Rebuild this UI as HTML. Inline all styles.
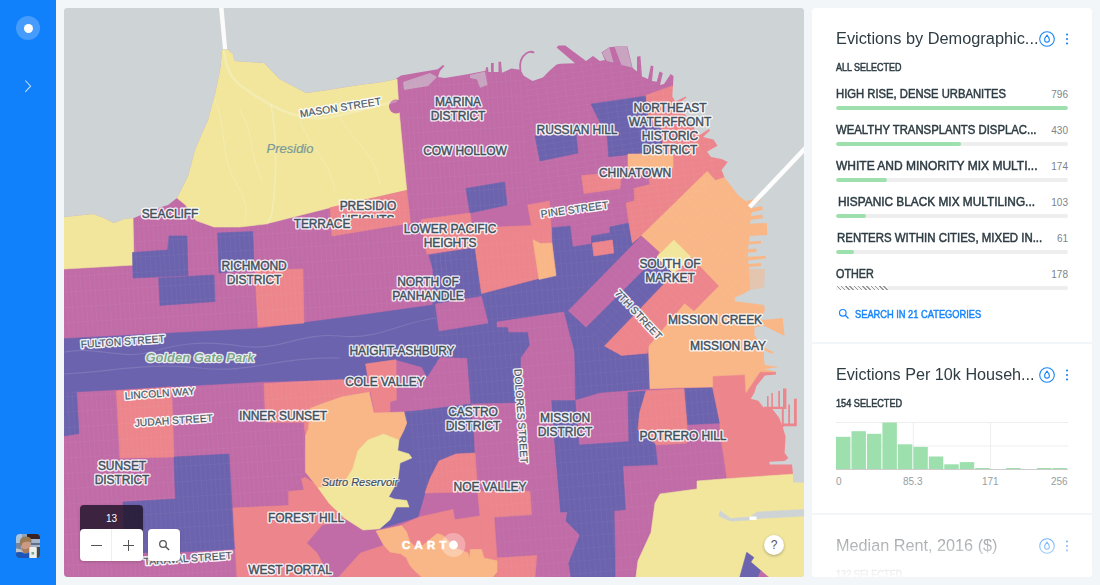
<!DOCTYPE html>
<html><head><meta charset="utf-8"><title>Evictions</title>
<style>
*{box-sizing:border-box;margin:0;padding:0}
html,body{width:1100px;height:585px;overflow:hidden;background:#F2F6F9;font-family:"Liberation Sans",sans-serif}
#side{position:absolute;left:0;top:0;width:56px;height:585px;background:#1181FB}
#logo{position:absolute;left:16px;top:16px;width:24px;height:24px;border-radius:50%;background:rgba(255,255,255,.22)}
#logo i{position:absolute;left:7.5px;top:7.5px;width:9px;height:9px;border-radius:50%;background:#fff}
#chev{position:absolute;left:20px;top:76px}
#avatar{position:absolute;left:16px;top:534px;width:24px;height:24px;border-radius:4px;overflow:hidden;background:#5b7186}
#map{position:absolute;left:64px;top:8px;width:740px;height:569px;border-radius:4px;overflow:hidden;background:#CED3D6}
#map svg{position:absolute;left:0;top:0}
.lb{font:400 12px "Liberation Sans",sans-serif;letter-spacing:-.1px;text-anchor:middle;stroke-linejoin:round}
.st{font-size:10.3px;letter-spacing:.05px}
.lb.h{fill:#fff;stroke:#fff;stroke-width:3.2px;stroke-opacity:.9}
.lb.f{fill:#42515F;stroke:#42515F;stroke-width:.45px}
.st.f{stroke-width:.2px;fill:#4A5A68}
.it{font:italic 400 12.5px "Liberation Sans",sans-serif;letter-spacing:0;text-anchor:middle;stroke-linejoin:round}
.pk.h{fill:none;stroke:none}
.pk.f{fill:#7A9A98;stroke:#7A9A98;stroke-width:.2px;font-size:13px}
.gp{font-weight:700;font-size:13px}
.gp.h{fill:#fff;stroke:#fff;stroke-width:2.6px;stroke-opacity:.85}
.gp.f{fill:#7DA787}
.sr{font-size:11px}
.sr.h{fill:#fff;stroke:#fff;stroke-width:2.2px;stroke-opacity:.55}
.sr.f{fill:#3F4E5A;stroke:#3F4E5A;stroke-width:.2px}
#zoom{position:absolute;left:16px;top:497px;width:63px;height:56px;border-radius:4px;box-shadow:0 1px 3px rgba(0,0,0,.18)}
#zoom .lvl{position:absolute;left:0;top:0;width:63px;height:28px;background:rgba(30,20,40,.82);border-radius:4px 4px 0 0;color:#fff;font-size:10px;text-align:center;line-height:28px}
#zoom .btn{position:absolute;left:0;top:24px;width:63px;height:32px;background:#fff;border-radius:4px}
#zoom .btn:after{content:"";position:absolute;left:31px;top:0;width:1px;height:32px;background:#eee}
#srch{position:absolute;left:84px;top:521px;width:32px;height:32px;background:#fff;border-radius:4px;box-shadow:0 1px 3px rgba(0,0,0,.18)}
#help{position:absolute;left:700px;top:527px;width:20px;height:20px;border-radius:50%;background:#fff;box-shadow:0 1px 3px rgba(0,0,0,.3);color:#555;font-size:12px;text-align:center;line-height:20px}
#panel{position:absolute;left:812px;top:8px;width:280px;height:569px;border-radius:4px;overflow:hidden}
.w{position:absolute;left:0;width:280px;background:#fff}
.ttl{position:absolute;left:24px;font-size:16px;color:#2E3C43;white-space:nowrap;transform-origin:0 0}
.sub{position:absolute;left:24px;font-size:10.5px;font-weight:400;-webkit-text-stroke:.5px currentColor;color:#2E3C43;white-space:nowrap;transform-origin:0 0}
.ico{position:absolute}
.row{position:absolute;left:24px;width:232px;height:28px}
.row .nm{position:absolute;top:1.2px;font-size:12.5px;font-weight:400;-webkit-text-stroke:.5px #2E3C43;color:#2E3C43;white-space:nowrap;line-height:14px;transform-origin:0 0}
.row .vl{position:absolute;right:0;top:2px;font-size:10px;color:#7A858B;line-height:14px}
.row .bar{position:absolute;left:0;top:20px;width:232px;height:4px;border-radius:2px;background:#EEEEEE;overflow:hidden}
.row .fill{height:4px;border-radius:2px;background:#9DE0AD}
.row .hatch{background:repeating-linear-gradient(45deg,#999 0 1px,#f4f4f4 1px 3px);border-radius:2px 0 0 2px}
#find{position:absolute;left:42.7px;top:300px;font-size:10.5px;font-weight:400;-webkit-text-stroke:.45px #1785FB;color:#1785FB;white-space:nowrap;transform-origin:0 0}
.ax{position:absolute;top:132.3px;font-size:10px;color:#979EA1}
#fade{position:absolute;left:0;top:505px;width:280px;height:64px;background:linear-gradient(rgba(255,255,255,0),rgba(255,255,255,.95))}
</style></head><body>
<div id="side">
 <div id="logo"><i></i></div>
 <svg id="chev" width="16" height="20" viewBox="0 0 16 20"><path d="M5.3 4.5 L10.6 10.2 L5.3 15.8" fill="none" stroke="#C4DEFE" stroke-width="1.05"/></svg>
 <div id="avatar"><svg width="24" height="24" viewBox="0 0 24 24"><defs><filter id="bl" x="-10%" y="-10%" width="120%" height="120%"><feGaussianBlur stdDeviation=".7"/></filter></defs><g filter="url(#bl)"><rect x="-2" y="-2" width="28" height="28" fill="#8FA3BD"/><rect x="-2" y="-2" width="8" height="13" fill="#A9C4E0"/><rect x="-2" y="9" width="7" height="6" fill="#6F87A6"/><rect x="11" y="-2" width="15" height="7" fill="#3A2422"/><rect x="15" y="5" width="11" height="8" fill="#A3B4CB"/><rect x="15" y="9" width="11" height="2" fill="#5E6E86"/><rect x="20" y="13" width="6" height="13" fill="#4C4A42"/><ellipse cx="9.8" cy="12" rx="5" ry="6.5" fill="#CB9A82"/><path d="M3.5 11 Q3 2 10 2.5 Q16.5 2.5 15.5 9 Q13 6.5 9 8 Q6 8 5.5 12Z" fill="#9A7A55"/><path d="M5.5 14 Q9.5 16.5 14 13.5 Q14 20 9.5 19.5 Q6 19 5.5 14Z" fill="#A87B5C"/><path d="M-2 15 Q3 13 7 17.5 L5 20 L-2 20Z" fill="#BFC2C6"/><path d="M-2 19 Q5 17 8 19.5 Q11 20 13.5 18 L14 26 L-2 26Z" fill="#1F55B5"/><rect x="13.3" y="13" width="7.5" height="12" rx="1" fill="#EEF0EE"/><rect x="15.5" y="18" width="2.6" height="2.6" fill="#7FA595"/></g></svg></div>
</div>
<div id="map">
<svg width="740" height="569" viewBox="64 8 740 569">
<defs>
<clipPath id="g1"><polygon points="64,260 134,262 134,218 190,205 240,227 330,207 406,190 400,80 520,60 530,200 470,214 433,305 300,322 64,338"/></clipPath><clipPath id="g2"><polygon points="64,392 342,379 370,391 305,430 305,477 288,492 288,506 233,508 237,580 64,580"/></clipPath><clipPath id="g3"><polygon points="520,60 680,60 725,175 641,235 552,228 549,201 530,200"/></clipPath><clipPath id="g4"><polygon points="433,255 552,228 641,235 568,311 604,346 650,354 650,389 720,388 727,478 655,503 636,580 500,580 497,517 477,491 425,493 404,412 440,356 433,305"/></clipPath><clipPath id="g5"><polygon points="707,171 750,208 750,290 735,300 684,304 648,346 604,346 568,311 641,235"/></clipPath>
<clipPath id="hc"><rect x="340" y="212" width="60" height="6.3"/></clipPath><mask id="land" maskUnits="userSpaceOnUse" x="64" y="8" width="740" height="569"><g fill="#fff"><polygon points="64,217 93,214 104,218 114,223 124,219 134,218 152,210 168,205 177,198 180.5,191 188,176 195,150 200,138 208,120 215,94 220.5,68 222,50 227,49 233,54 234.6,61 264,63 279.5,79 306,93 328,90 359,85 379.5,82.5 394.8,79.6 401,75.5 417,72.7 437.7,69.3 443,65 444.5,66 440,71 438,77 445,78 469,74 485.5,70.7 486,67.3 488,67.3 488.5,72 491,72 491,63 493.7,63 493.7,72 498.5,72 498.5,61.8 501,61.8 502,72.7 511.4,68.6 520.4,69.7 523.8,75.8 532.5,81 542.8,77.5 549.7,70.6 556.6,64.5 560,63.7 575,63.2 556.6,47.5 558.5,45.5 565.3,45.5 586,61 593,56 599.8,61 605,60 601.5,52.5 609.3,47.3 617,46.4 627.4,46.4 632.6,68 637,71.5 637,56.8 640.4,56 642,76.6 648,79 650.8,65.4 653.4,66.3 652,81 656.8,81.8 659.4,71.5 662.8,73 660,85 664,84 670.6,74 673.5,76 673,85.3 672.3,96.4 675.4,101.5 685.6,96.4 686.5,97.5 678,104 699,135.4 709,129 710,130.5 703,137 713.4,139.5 717.5,145.7 707,151.8 711,157 721.6,159 727.7,162 721.6,170 724.6,177.5 738,195 746,201.3 759,197.5 761,200 749.8,207.9 751.7,208 762,206 763,209.7 751.7,212.6 750.8,216.3 762,214.4 763,218.2 750.8,220 749.8,223.8 766.8,222.9 767.3,235 749.8,236 748.9,241.7 761,240.8 761,243.6 748.5,244.5 748,249 756.4,248.7 756.4,252 748,252.5 748,256.8 765.8,255.8 765.8,258.6 748,260.5 748.5,264 761,263 761,266 749,267 749,269 750.4,289.7 743,294 734.8,297.5 734.8,301.3 749,303 764,305 764.9,310.7 760,318 762,320 782.7,318 784.6,336 764,325.7 754.5,327.6 754.5,335 762,346.4 773.3,352 772.5,354 764,350 764,359.6 764.9,365 779,367 764.9,369 776,371.8 776,374.6 764.9,375.6 756.4,386 754.5,392.5 750.8,398.8 758.3,400.7 764,408 771.5,408 779,417.6 782.7,427 785.6,436.4 784.6,453 788.4,458 784.6,461 769.6,461.8 769.6,464.6 792,464.6 793,474 793,482.5 804,482.5 804,577 64,577"/>
<path d="M767 396h1.6v12h-1.6zM771.3 393h1.6v15h-1.6zM778.2 391h1.8v17h-1.8zM783 388.5h3.4v20h-3.4zM764 406.8h22.4v2.2h-22.4zM781.8 408h2v19h-2zM788.2 404.4h1.8v20h-1.8zM794 398.8h2.8v27h-2.8zM782 423.6h14.8v2.6h-14.8z"/>
<path d="M519.5 71 Q517.5 58 526 52.5 Q531 49.5 534.6 52 L533.8 53.6 Q530.5 51.6 526.8 54 Q519.5 59 521.3 71z"/>
</g></mask></defs>
<rect x="64" y="8" width="740" height="569" fill="#CED3D6"/>
<g mask="url(#land)">
<polygon fill="#C16CA7" stroke="#C16CA7" stroke-width=".6" points="60,0 810,0 810,580 60,580" />
<polygon fill="#F1E69C" stroke="#F1E69C" stroke-width=".6" points="222,50 227,49 233,54 234.6,61 264,63 279.5,79 306,93 328,90 359,85 379.5,82.5 397,79 399,110 402.8,150 406.7,190 330,207.7 265.6,224 240,227 214,227 196,220.5 185.6,205 177,198 180.5,191 188,176 195,150 200,138 208,120 215,94 220.5,68" />
<polygon fill="#F1E69C" stroke="#F1E69C" stroke-width=".6" points="64,217 93,214 104,218 114,223 124,219 133,218 134,265 64,269" />
<polygon fill="#6C63AE" stroke="#6C63AE" stroke-width=".6" points="535,136 576,134 578,153 540,161" />
<polygon fill="#6C63AE" stroke="#6C63AE" stroke-width=".6" points="466,188.5 504.6,182 507,205 470,213" />
<polygon fill="#6C63AE" stroke="#6C63AE" stroke-width=".6" points="591,104 646,96 648.5,117 662.6,130 662.6,144 644.6,153 608.7,156.7 607.4,137.4" />
<polygon fill="#6C63AE" stroke="#6C63AE" stroke-width=".6" points="169,236 187,236 188,275.6 133,278 132.5,252.5 167.7,250" />
<polygon fill="#6C63AE" stroke="#6C63AE" stroke-width=".6" points="158.7,278 214,275 215,301.5 160,305.4" />
<polygon fill="#6C63AE" stroke="#6C63AE" stroke-width=".6" points="217.7,233 252.8,231.5 254,269 219,273" />
<polygon fill="#6C63AE" stroke="#6C63AE" stroke-width=".6" points="429,255 475,247.4 481.5,293.6 540.5,278 556,275.6 552,243 552.3,227.7 570,226 572.5,247 591.5,244 591.5,236 610,233 610,227 628.5,223 632.3,243 641.5,235.4 567.7,310.8 586,327.7 604.6,346 621.5,355.4 648.5,354 650,388.7 600,392.5 575,400 521,403 471,404 467.4,358 440,356.7 427,377 422,367 396,359.7 366,364 367,381 342,379.5 260,381.8 64,392.5 64,338.7 260,328.5 358,315.6 433,305 433,270" />
<polygon fill="#6C63AE" stroke="#6C63AE" stroke-width=".6" points="657,257 673.8,273.8 604.6,346 586,327.7" />
<polygon fill="#6C63AE" stroke="#6C63AE" stroke-width=".6" points="551,400 575,400 579,445 610,443 629,441.5 628,392.5 646,391 640,413 638,430 655,443 657.4,464.6 622.8,466 625.4,509.5 614,510.8 615,553 615,577 571,577 568.7,563 580,535 566,521 567.4,512 559.7,512 553,430" />
<polygon fill="#6C63AE" stroke="#6C63AE" stroke-width=".6" points="404,412 420,410.5 471,404 474,430 475,453 456,454 439,461 430,478.7 425,493 418,517 380,529 360,500 380,440 404,430 406.7,423" />
<polygon fill="#6C63AE" stroke="#6C63AE" stroke-width=".6" points="174,457 229,454 234.4,549 180,552 125,553 123,502 175.4,499" />
<polygon fill="#6C63AE" stroke="#6C63AE" stroke-width=".6" points="64,392.5 76.7,392.5 79,433.6 64,436" />
<polygon fill="#6C63AE" stroke="#6C63AE" stroke-width=".6" points="684,388.7 712.6,387.4 720,423 687,424.6" />
<polygon fill="#6C63AE" stroke="#6C63AE" stroke-width=".6" points="746.7,552.3 753.9,557.5 750.8,562 761,570.8 757,580 739,580" />
<polygon fill="#C16CA7" stroke="#C16CA7" stroke-width=".6" points="761,570.8 772,580 757,580" />
<polygon fill="#C16CA7" stroke="#C16CA7" stroke-width=".6" points="435.4,304 481.5,296.4 488,323 439,331" />
<polygon fill="#C16CA7" stroke="#C16CA7" stroke-width=".6" points="497,322 563.6,312 574,351.5 575,400 551,400 553,430 560,512 531.5,514.6 530,491.5 477.7,491.5 475,453 474,430 471,404 521,403 521,358 530,345 528,332 509,332 508,327 497,327" />
<polygon fill="#EC868C" stroke="#EC868C" stroke-width=".6" points="330,207.7 406.7,190.5 410.5,223 332,236" />
<polygon fill="#EC868C" stroke="#EC868C" stroke-width=".6" points="421,219.5 470,213 475,247 427,254" />
<polygon fill="#EC868C" stroke="#EC868C" stroke-width=".6" points="471,228 531.5,225.6 527.7,205 549.5,201 552,243 540.5,243.6 533,239.7 540.5,278 481.5,293.6 475,247" />
<polygon fill="#EC868C" stroke="#EC868C" stroke-width=".6" points="255,270.5 302.8,269 304,323 258,327" />
<polygon fill="#EC868C" stroke="#EC868C" stroke-width=".6" points="116.4,391 171.5,387 174,457 120,458" />
<polygon fill="#EC868C" stroke="#EC868C" stroke-width=".6" points="365.6,364 396,359.7 396.4,400 390,401.5 390,411.8 374.6,413 370.8,392.5" />
<polygon fill="#EC868C" stroke="#EC868C" stroke-width=".6" points="264,383.6 342,379.7 370,385 370,392.3 341.5,397 320,404.6 310,408.5 308.5,428.5 305.4,436 304,422.3 265.6,422.3" />
<polygon fill="#EC868C" stroke="#EC868C" stroke-width=".6" points="233,508 288.7,505.6 288.7,491.5 304,490 301.5,478.7 305.4,477.4 317,485 329.7,504 345,518.5 322,525 306.7,543 317,553 329.7,577 237,577" />
<polygon fill="#EC868C" stroke="#EC868C" stroke-width=".6" points="439,461 456,454 475,453 477.7,491.5 425,493 430,478.7" />
<polygon fill="#EC868C" stroke="#EC868C" stroke-width=".6" points="401.5,525 419.5,517 453,509.5 454.6,519.7 480,516 481.5,552 470,560 440,550 420,548 408,545" />
<polygon fill="#EC868C" stroke="#EC868C" stroke-width=".6" points="360.5,553 385,545 404,555.6 414,568.5 425,577 338.7,577" />
<polygon fill="#EC868C" stroke="#EC868C" stroke-width=".6" points="477.7,491.5 530,491.5 531.5,514.6 494,517 497,558 536.7,555.6 535,577 490,577 497,572 497,560.8 484,558 481.5,550.5 480,516" />
<polygon fill="#EC868C" stroke="#EC868C" stroke-width=".6" points="646,391 684,388.7 687,424.6 687,443 656,445 655,443 638,430 639.5,413" />
<polygon fill="#EC868C" stroke="#EC868C" stroke-width=".6" points="712.6,376 745,374.6 746,392.5 760,371.8 810,371.8 810,474 727,478.7 720,430 720,423 712.6,387.4" />
<polygon fill="#EC868C" stroke="#EC868C" stroke-width=".6" points="581.5,175.6 621.5,172 620,188.5 584,193.6" />
<polygon fill="#EC868C" stroke="#EC868C" stroke-width=".6" points="646,95.2 672.4,86 700,80 760,130 740,180 715.4,180.5 707.2,171.3 673,168 673,154 662.6,153 662.6,130 648.5,117" />
<polygon fill="#EC868C" stroke="#EC868C" stroke-width=".6" points="648,168 673,168 673,154 707.2,171.3 641.5,235.4 632.3,243 629,223 626,203 634.6,200.8 634,188.5 649.7,184.6" />
<polygon fill="#EC868C" stroke="#EC868C" stroke-width=".6" points="592.3,243 612.3,240 613.8,253 593.8,256" />
<polygon fill="#F9B788" stroke="#F9B788" stroke-width=".6" points="628,154 673,154 673,168 628,168" />
<polygon fill="#F9B788" stroke="#F9B788" stroke-width=".6" points="533,239.7 540.5,243.6 552,243 556,275.6 539,279.5" />
<polygon fill="#F9B788" stroke="#F9B788" stroke-width=".6" points="707.2,171.3 715.4,180.5 724.6,177.5 760,170 810,190 810,372 760,371.8 746,392.5 745,374.6 712.6,376 712.6,387 684,387.4 650,388.7 648.5,346 673.8,273.8 657,257 660,252.3 641.5,235.4" />
<polygon fill="#EC868C" stroke="#EC868C" stroke-width=".6" points="673.8,273.8 690.8,257 718.5,286 694,310.8 684.6,303 648.5,346 647,353 621.5,355.4 604.6,346" />
<polygon fill="#F9B788" stroke="#F9B788" stroke-width=".6" points="305.4,436 308.5,428.5 310,408.5 320,404.6 341.5,397 369.2,392.3 373.8,413 404,412 406.7,423 404,430 399,440 383.6,434 368,440 358,450.5 352.8,468.5 342.6,485 318,487.7 305.4,472" />
<polygon fill="#F9B788" stroke="#F9B788" stroke-width=".6" points="376,531 401.5,525.5 406.4,531.6 409.7,541.4 414.6,546.3 422.8,545.5 432.6,537.3 437.5,533.5 443.3,535.7 455.6,548 467.9,552.9 469.5,559.4 470.3,549.6 481.5,549.5 484,558 497,560.8 497,572 490,580 425,580 414,570 409.7,565 406.4,557.8 400.7,553.7 390,552 383.6,545" />
<polygon fill="#F1E69C" stroke="#F1E69C" stroke-width=".6" points="673.8,240 690.8,257 673.8,273.8 657,257" />
<polygon fill="#F1E69C" stroke="#F1E69C" stroke-width=".6" points="368,440 383.6,434 399,440 397.7,450.5 409,454 411.8,458 400,463 397.7,481 388.7,496.7 394,499 406.7,500.5 409,507 396.4,507 390,519.7 379.7,528.7 363,530 345,518.5 329.7,504 318,487.7 342.6,485 352.8,468.5 358,450.5" />
<polygon fill="#F1E69C" stroke="#F1E69C" stroke-width=".6" points="655,503 660,494 697,489 697,481 727,478.7 810,473 810,580 635.6,580 638,560.8 651,532.5" />
<polygon fill="#6C63AE" stroke="#6C63AE" stroke-width=".6" points="746.7,552.3 753.9,557.5 750.8,562 761,570.8 757,580 739,580" />
<polygon fill="#C16CA7" stroke="#C16CA7" stroke-width=".6" points="761,570.8 772,580 757,580" />
<polygon fill="#CED3D6" stroke="#CED3D6" stroke-width=".6" points="720,510.8 730.5,518.5 749.7,517 757.4,512 804,509.5 804,516 757.4,518.5 749.7,520 730.5,521 719,516" />
<g clip-path="url(#g1)"><path transform="rotate(-3.5 297 199)" d="M-52.5 -150V548M-47.8 -150V548M-43.0 -150V548M-38.2 -150V548M-33.5 -150V548M-28.8 -150V548M-24.0 -150V548M-19.2 -150V548M-14.5 -150V548M-9.8 -150V548M-5.0 -150V548M-0.2 -150V548M4.5 -150V548M9.2 -150V548M14.0 -150V548M18.8 -150V548M23.5 -150V548M28.2 -150V548M33.0 -150V548M37.8 -150V548M42.5 -150V548M47.2 -150V548M52.0 -150V548M56.8 -150V548M61.5 -150V548M66.2 -150V548M71.0 -150V548M75.8 -150V548M80.5 -150V548M85.2 -150V548M90.0 -150V548M94.8 -150V548M99.5 -150V548M104.2 -150V548M109.0 -150V548M113.8 -150V548M118.5 -150V548M123.2 -150V548M128.0 -150V548M132.8 -150V548M137.5 -150V548M142.2 -150V548M147.0 -150V548M151.8 -150V548M156.5 -150V548M161.2 -150V548M166.0 -150V548M170.8 -150V548M175.5 -150V548M180.2 -150V548M185.0 -150V548M189.8 -150V548M194.5 -150V548M199.2 -150V548M204.0 -150V548M208.8 -150V548M213.5 -150V548M218.2 -150V548M223.0 -150V548M227.8 -150V548M232.5 -150V548M237.2 -150V548M242.0 -150V548M246.8 -150V548M251.5 -150V548M256.2 -150V548M261.0 -150V548M265.8 -150V548M270.5 -150V548M275.2 -150V548M280.0 -150V548M284.8 -150V548M289.5 -150V548M294.2 -150V548M299.0 -150V548M303.8 -150V548M308.5 -150V548M313.2 -150V548M318.0 -150V548M322.8 -150V548M327.5 -150V548M332.2 -150V548M337.0 -150V548M341.8 -150V548M346.5 -150V548M351.2 -150V548M356.0 -150V548M360.8 -150V548M365.5 -150V548M370.2 -150V548M375.0 -150V548M379.8 -150V548M384.5 -150V548M389.2 -150V548M394.0 -150V548M398.8 -150V548M403.5 -150V548M408.2 -150V548M413.0 -150V548M417.8 -150V548M422.5 -150V548M427.2 -150V548M432.0 -150V548M436.8 -150V548M441.5 -150V548M446.2 -150V548M451.0 -150V548M455.8 -150V548M460.5 -150V548M465.2 -150V548M470.0 -150V548M474.8 -150V548M479.5 -150V548M484.2 -150V548M489.0 -150V548M493.8 -150V548M498.5 -150V548M503.2 -150V548M508.0 -150V548M512.8 -150V548M517.5 -150V548M522.2 -150V548M527.0 -150V548M531.8 -150V548M536.5 -150V548M541.2 -150V548M546.0 -150V548M550.8 -150V548M555.5 -150V548M560.2 -150V548M565.0 -150V548M569.8 -150V548M574.5 -150V548M579.2 -150V548M584.0 -150V548M588.8 -150V548M593.5 -150V548M598.2 -150V548M603.0 -150V548M607.8 -150V548M612.5 -150V548M617.2 -150V548M622.0 -150V548M626.8 -150V548M631.5 -150V548M636.2 -150V548M641.0 -150V548M645.8 -150V548M-52 -150.5H646M-52 -135.2H646M-52 -119.9H646M-52 -104.6H646M-52 -89.3H646M-52 -74.0H646M-52 -58.7H646M-52 -43.4H646M-52 -28.1H646M-52 -12.8H646M-52 2.5H646M-52 17.8H646M-52 33.1H646M-52 48.4H646M-52 63.7H646M-52 79.0H646M-52 94.3H646M-52 109.6H646M-52 124.9H646M-52 140.2H646M-52 155.5H646M-52 170.8H646M-52 186.1H646M-52 201.4H646M-52 216.7H646M-52 232.0H646M-52 247.3H646M-52 262.6H646M-52 277.9H646M-52 293.2H646M-52 308.5H646M-52 323.8H646M-52 339.1H646M-52 354.4H646M-52 369.7H646M-52 385.0H646M-52 400.3H646M-52 415.6H646M-52 430.9H646M-52 446.2H646M-52 461.5H646M-52 476.8H646M-52 492.1H646M-52 507.4H646M-52 522.7H646M-52 538.0H646" fill="none" stroke="#fff" stroke-opacity="0.065" stroke-width=".6"/></g>
<g clip-path="url(#g2)"><path transform="rotate(-3.5 217 480)" d="M-12.5 250V709M-7.8 250V709M-3.0 250V709M1.8 250V709M6.5 250V709M11.2 250V709M16.0 250V709M20.8 250V709M25.5 250V709M30.2 250V709M35.0 250V709M39.8 250V709M44.5 250V709M49.2 250V709M54.0 250V709M58.8 250V709M63.5 250V709M68.2 250V709M73.0 250V709M77.8 250V709M82.5 250V709M87.2 250V709M92.0 250V709M96.8 250V709M101.5 250V709M106.2 250V709M111.0 250V709M115.8 250V709M120.5 250V709M125.2 250V709M130.0 250V709M134.8 250V709M139.5 250V709M144.2 250V709M149.0 250V709M153.8 250V709M158.5 250V709M163.2 250V709M168.0 250V709M172.8 250V709M177.5 250V709M182.2 250V709M187.0 250V709M191.8 250V709M196.5 250V709M201.2 250V709M206.0 250V709M210.8 250V709M215.5 250V709M220.2 250V709M225.0 250V709M229.8 250V709M234.5 250V709M239.2 250V709M244.0 250V709M248.8 250V709M253.5 250V709M258.2 250V709M263.0 250V709M267.8 250V709M272.5 250V709M277.2 250V709M282.0 250V709M286.8 250V709M291.5 250V709M296.2 250V709M301.0 250V709M305.8 250V709M310.5 250V709M315.2 250V709M320.0 250V709M324.8 250V709M329.5 250V709M334.2 250V709M339.0 250V709M343.8 250V709M348.5 250V709M353.2 250V709M358.0 250V709M362.8 250V709M367.5 250V709M372.2 250V709M377.0 250V709M381.8 250V709M386.5 250V709M391.2 250V709M396.0 250V709M400.8 250V709M405.5 250V709M410.2 250V709M415.0 250V709M419.8 250V709M424.5 250V709M429.2 250V709M434.0 250V709M438.8 250V709M443.5 250V709M-12 250.0H446M-12 265.3H446M-12 280.6H446M-12 295.9H446M-12 311.2H446M-12 326.5H446M-12 341.8H446M-12 357.1H446M-12 372.4H446M-12 387.7H446M-12 403.0H446M-12 418.3H446M-12 433.6H446M-12 448.9H446M-12 464.2H446M-12 479.5H446M-12 494.8H446M-12 510.1H446M-12 525.4H446M-12 540.7H446M-12 556.0H446M-12 571.3H446M-12 586.6H446M-12 601.9H446M-12 617.2H446M-12 632.5H446M-12 647.8H446M-12 663.1H446M-12 678.4H446M-12 693.7H446M-12 709.0H446" fill="none" stroke="#fff" stroke-opacity="0.065" stroke-width=".6"/></g>
<g clip-path="url(#g3)"><path transform="rotate(-8 622 148)" d="M468.8 -6V301M478.4 -6V301M488.0 -6V301M497.6 -6V301M507.2 -6V301M516.8 -6V301M526.4 -6V301M536.0 -6V301M545.6 -6V301M555.2 -6V301M564.8 -6V301M574.4 -6V301M584.0 -6V301M593.6 -6V301M603.2 -6V301M612.8 -6V301M622.4 -6V301M632.0 -6V301M641.6 -6V301M651.2 -6V301M660.8 -6V301M670.4 -6V301M680.0 -6V301M689.6 -6V301M699.2 -6V301M708.8 -6V301M718.4 -6V301M728.0 -6V301M737.6 -6V301M747.2 -6V301M756.8 -6V301M766.4 -6V301M776.0 -6V301M469 -6.2H776M469 -0.7H776M469 4.9H776M469 10.5H776M469 16.1H776M469 21.8H776M469 27.4H776M469 33.0H776M469 38.6H776M469 44.2H776M469 49.8H776M469 55.4H776M469 61.0H776M469 66.6H776M469 72.2H776M469 77.8H776M469 83.3H776M469 88.9H776M469 94.5H776M469 100.1H776M469 105.7H776M469 111.3H776M469 116.9H776M469 122.5H776M469 128.1H776M469 133.7H776M469 139.3H776M469 144.9H776M469 150.5H776M469 156.1H776M469 161.7H776M469 167.3H776M469 172.9H776M469 178.5H776M469 184.1H776M469 189.7H776M469 195.3H776M469 200.9H776M469 206.5H776M469 212.1H776M469 217.7H776M469 223.3H776M469 228.9H776M469 234.5H776M469 240.1H776M469 245.7H776M469 251.3H776M469 256.9H776M469 262.5H776M469 268.1H776M469 273.7H776M469 279.3H776M469 284.9H776M469 290.5H776M469 296.1H776" fill="none" stroke="#fff" stroke-opacity="0.065" stroke-width=".6"/></g>
<g clip-path="url(#g4)"><path transform="rotate(-4.5 566 404)" d="M301.5 140V668M306.7 140V668M311.9 140V668M317.1 140V668M322.3 140V668M327.5 140V668M332.7 140V668M337.9 140V668M343.1 140V668M348.3 140V668M353.5 140V668M358.7 140V668M363.9 140V668M369.1 140V668M374.3 140V668M379.5 140V668M384.7 140V668M389.9 140V668M395.1 140V668M400.3 140V668M405.5 140V668M410.7 140V668M415.9 140V668M421.1 140V668M426.3 140V668M431.5 140V668M436.7 140V668M441.9 140V668M447.1 140V668M452.3 140V668M457.5 140V668M462.7 140V668M467.9 140V668M473.1 140V668M478.3 140V668M483.5 140V668M488.7 140V668M493.9 140V668M499.1 140V668M504.3 140V668M509.5 140V668M514.7 140V668M519.9 140V668M525.1 140V668M530.3 140V668M535.5 140V668M540.7 140V668M545.9 140V668M551.1 140V668M556.3 140V668M561.5 140V668M566.7 140V668M571.9 140V668M577.1 140V668M582.3 140V668M587.5 140V668M592.7 140V668M597.9 140V668M603.1 140V668M608.3 140V668M613.5 140V668M618.7 140V668M623.9 140V668M629.1 140V668M634.3 140V668M639.5 140V668M644.7 140V668M649.9 140V668M655.1 140V668M660.3 140V668M665.5 140V668M670.7 140V668M675.9 140V668M681.1 140V668M686.3 140V668M691.5 140V668M696.7 140V668M701.9 140V668M707.1 140V668M712.3 140V668M717.5 140V668M722.7 140V668M727.9 140V668M733.1 140V668M738.3 140V668M743.5 140V668M748.7 140V668M753.9 140V668M759.1 140V668M764.3 140V668M769.5 140V668M774.7 140V668M779.9 140V668M785.1 140V668M790.3 140V668M795.5 140V668M800.7 140V668M805.9 140V668M811.1 140V668M816.3 140V668M821.5 140V668M826.7 140V668M302 140.0H830M302 152.4H830M302 164.8H830M302 177.2H830M302 189.6H830M302 202.0H830M302 214.4H830M302 226.8H830M302 239.2H830M302 251.6H830M302 264.0H830M302 276.4H830M302 288.8H830M302 301.2H830M302 313.6H830M302 326.0H830M302 338.4H830M302 350.8H830M302 363.2H830M302 375.6H830M302 388.0H830M302 400.4H830M302 412.8H830M302 425.2H830M302 437.6H830M302 450.0H830M302 462.4H830M302 474.8H830M302 487.2H830M302 499.6H830M302 512.0H830M302 524.4H830M302 536.8H830M302 549.2H830M302 561.6H830M302 574.0H830M302 586.4H830M302 598.8H830M302 611.2H830M302 623.6H830M302 636.0H830M302 648.4H830M302 660.8H830" fill="none" stroke="#fff" stroke-opacity="0.06" stroke-width=".6"/></g>
<g clip-path="url(#g5)"><path transform="rotate(-46 659 258)" d="M522.5 122V395M528.7 122V395M534.9 122V395M541.1 122V395M547.3 122V395M553.5 122V395M559.7 122V395M565.9 122V395M572.1 122V395M578.3 122V395M584.5 122V395M590.7 122V395M596.9 122V395M603.1 122V395M609.3 122V395M615.5 122V395M621.7 122V395M627.9 122V395M634.1 122V395M640.3 122V395M646.5 122V395M652.7 122V395M658.9 122V395M665.1 122V395M671.3 122V395M677.5 122V395M683.7 122V395M689.9 122V395M696.1 122V395M702.3 122V395M708.5 122V395M714.7 122V395M720.9 122V395M727.1 122V395M733.3 122V395M739.5 122V395M745.7 122V395M751.9 122V395M758.1 122V395M764.3 122V395M770.5 122V395M776.7 122V395M782.9 122V395M789.1 122V395M795.3 122V395M522 122.0H796M522 135.0H796M522 148.0H796M522 161.0H796M522 174.0H796M522 187.0H796M522 200.0H796M522 213.0H796M522 226.0H796M522 239.0H796M522 252.0H796M522 265.0H796M522 278.0H796M522 291.0H796M522 304.0H796M522 317.0H796M522 330.0H796M522 343.0H796M522 356.0H796M522 369.0H796M522 382.0H796M522 395.0H796" fill="none" stroke="#fff" stroke-opacity="0.065" stroke-width=".6"/></g>

<circle cx="396" cy="106.5" r="7" fill="#C16CA7"/>
</g>
<g fill="none" stroke="#fff" stroke-opacity=".22" stroke-linecap="round">
<path d="M224,52 C226,68 231,78 240,85 S262,100 271,105 S296,116 310,118 S345,114 362,110 S385,104 396,101" stroke-width="2.6"/>
<path d="M271,105 C276,130 277,165 274,196 S270,215 267,224" stroke-width="1.8"/>
<path d="M215,100 C225,120 222,150 230,170 S250,200 245,222 M300,120 C310,150 330,160 335,190 M340,116 C350,140 375,150 380,185 M240,110 C255,135 250,160 262,180" stroke-width="1"/>
<path d="M64,352 C100,346 120,360 150,352 S200,340 240,346 S300,332 340,336 S400,322 436,318 M64,374 C110,372 150,362 200,368 S280,356 340,358" stroke-width="1.2" stroke-opacity=".12"/>
</g>
<polygon points="749,269 765,269 764,287.8 750.4,289.7" fill="#F9B788" fill-opacity=".5"/>
<g fill="#CED3D6" fill-opacity=".55"><polygon points="403,82 430,73 437,77 428,86 404,90"/><polygon points="470,75 485,71.5 487.5,85 480,87.7 477,79.6 470,78"/><polygon points="602,53 609.3,47.5 613.6,62.5 606.7,61"/><polygon points="614.5,47 627,47 632,67.5 621.5,65"/></g>
<polygon points="219,8 223.6,8 227.2,49 223,49.5" fill="#FBFBFB"/>
<line x1="806" y1="147.5" x2="749.6" y2="207" stroke="#FDFDFD" stroke-width="4.5"/>
<rect x="749.5" y="516.5" width="7" height="3.5" fill="#fff"/>

<g clip-path="url(#hc)"><text class="lb h" x="368" y="224">HEIGHTS</text><text class="lb f" x="368" y="224">HEIGHTS</text></g>
<text class="lb st h" x="341" y="111" transform="rotate(-9 341 111)">MASON STREET</text>
<text class="it pk h" x="290" y="153">Presidio</text>
<text class="lb h" x="458" y="106">MARINA</text>
<text class="lb h" x="458" y="120">DISTRICT</text>
<text class="lb h" x="465" y="155">COW HOLLOW</text>
<text class="lb h" x="577" y="134">RUSSIAN HILL</text>
<text class="lb h" x="670" y="112">NORTHEAST</text>
<text class="lb h" x="670" y="126">WATERFRONT</text>
<text class="lb h" x="670" y="140">HISTORIC</text>
<text class="lb h" x="670" y="154">DISTRICT</text>
<text class="lb h" x="635" y="177">CHINATOWN</text>
<text class="lb h" x="170" y="218">SEACLIFF</text>
<text class="lb h" x="368" y="210">PRESIDIO</text>
<text class="lb h" x="322" y="228">TERRACE</text>
<text class="lb h" x="450" y="233.2">LOWER PACIFIC</text>
<text class="lb h" x="450" y="246.8">HEIGHTS</text>
<text class="lb st h" x="575" y="213" transform="rotate(-8 575 213)">PINE STREET</text>
<text class="lb h" x="254" y="270">RICHMOND</text>
<text class="lb h" x="254" y="284">DISTRICT</text>
<text class="lb h" x="428" y="286">NORTH OF</text>
<text class="lb h" x="428" y="300">PANHANDLE</text>
<text class="lb h" x="670" y="268">SOUTH OF</text>
<text class="lb h" x="670" y="282">MARKET</text>
<text class="lb st h" x="636" y="317" transform="rotate(47 636 317)">7TH STREET</text>
<text class="lb h" x="715" y="324">MISSION CREEK</text>
<text class="lb h" x="728" y="350">MISSION BAY</text>
<text class="lb st h" x="123" y="345" transform="rotate(-4 123 345)">FULTON STREET</text>
<text class="it gp h" x="200" y="362">Golden Gate Park</text>
<text class="lb h" x="402" y="355">HAIGHT-ASHBURY</text>
<text class="lb h" x="385" y="386">COLE VALLEY</text>
<text class="lb st h" x="160" y="397" transform="rotate(-4 160 397)">LINCOLN WAY</text>
<text class="lb st h" x="174" y="424" transform="rotate(-4 174 424)">JUDAH STREET</text>
<text class="lb h" x="283" y="419.5">INNER SUNSET</text>
<text class="lb h" x="473" y="416">CASTRO</text>
<text class="lb h" x="473" y="430">DISTRICT</text>
<text class="lb st h" x="517.5" y="416.5" transform="rotate(86 517.5 416.5)">DOLORES STREET</text>
<text class="lb h" x="565" y="422">MISSION</text>
<text class="lb h" x="565" y="436">DISTRICT</text>
<text class="lb h" x="683" y="440">POTRERO HILL</text>
<text class="lb h" x="122" y="470">SUNSET</text>
<text class="lb h" x="122" y="484">DISTRICT</text>
<text class="it sr h" x="360" y="486">Sutro Reservoir</text>
<text class="lb h" x="490" y="491">NOE VALLEY</text>
<text class="lb h" x="306" y="522">FOREST HILL</text>
<text class="lb st h" x="188" y="562" transform="rotate(-4 188 562)">TARAVAL STREET</text>
<text class="lb h" x="290" y="574">WEST PORTAL</text>
<text class="lb st f" x="341" y="111" transform="rotate(-9 341 111)">MASON STREET</text>
<text class="it pk f" x="290" y="153">Presidio</text>
<text class="lb f" x="458" y="106">MARINA</text>
<text class="lb f" x="458" y="120">DISTRICT</text>
<text class="lb f" x="465" y="155">COW HOLLOW</text>
<text class="lb f" x="577" y="134">RUSSIAN HILL</text>
<text class="lb f" x="670" y="112">NORTHEAST</text>
<text class="lb f" x="670" y="126">WATERFRONT</text>
<text class="lb f" x="670" y="140">HISTORIC</text>
<text class="lb f" x="670" y="154">DISTRICT</text>
<text class="lb f" x="635" y="177">CHINATOWN</text>
<text class="lb f" x="170" y="218">SEACLIFF</text>
<text class="lb f" x="368" y="210">PRESIDIO</text>
<text class="lb f" x="322" y="228">TERRACE</text>
<text class="lb f" x="450" y="233.2">LOWER PACIFIC</text>
<text class="lb f" x="450" y="246.8">HEIGHTS</text>
<text class="lb st f" x="575" y="213" transform="rotate(-8 575 213)">PINE STREET</text>
<text class="lb f" x="254" y="270">RICHMOND</text>
<text class="lb f" x="254" y="284">DISTRICT</text>
<text class="lb f" x="428" y="286">NORTH OF</text>
<text class="lb f" x="428" y="300">PANHANDLE</text>
<text class="lb f" x="670" y="268">SOUTH OF</text>
<text class="lb f" x="670" y="282">MARKET</text>
<text class="lb st f" x="636" y="317" transform="rotate(47 636 317)">7TH STREET</text>
<text class="lb f" x="715" y="324">MISSION CREEK</text>
<text class="lb f" x="728" y="350">MISSION BAY</text>
<text class="lb st f" x="123" y="345" transform="rotate(-4 123 345)">FULTON STREET</text>
<text class="it gp f" x="200" y="362">Golden Gate Park</text>
<text class="lb f" x="402" y="355">HAIGHT-ASHBURY</text>
<text class="lb f" x="385" y="386">COLE VALLEY</text>
<text class="lb st f" x="160" y="397" transform="rotate(-4 160 397)">LINCOLN WAY</text>
<text class="lb st f" x="174" y="424" transform="rotate(-4 174 424)">JUDAH STREET</text>
<text class="lb f" x="283" y="419.5">INNER SUNSET</text>
<text class="lb f" x="473" y="416">CASTRO</text>
<text class="lb f" x="473" y="430">DISTRICT</text>
<text class="lb st f" x="517.5" y="416.5" transform="rotate(86 517.5 416.5)">DOLORES STREET</text>
<text class="lb f" x="565" y="422">MISSION</text>
<text class="lb f" x="565" y="436">DISTRICT</text>
<text class="lb f" x="683" y="440">POTRERO HILL</text>
<text class="lb f" x="122" y="470">SUNSET</text>
<text class="lb f" x="122" y="484">DISTRICT</text>
<text class="it sr f" x="360" y="486">Sutro Reservoir</text>
<text class="lb f" x="490" y="491">NOE VALLEY</text>
<text class="lb f" x="306" y="522">FOREST HILL</text>
<text class="lb st f" x="188" y="562" transform="rotate(-4 188 562)">TARAVAL STREET</text>
<text class="lb f" x="290" y="574">WEST PORTAL</text>
<g fill="#fff" stroke="#fff" stroke-width=".6" font-family="Liberation Sans, sans-serif" font-weight="700" font-size="11.3" letter-spacing="4.35"><text x="401.9" y="549.2">CART</text></g>
<circle cx="453.5" cy="545" r="11.9" fill="#fff" fill-opacity=".3"/><circle cx="453.5" cy="545" r="4.4" fill="#fff"/>
</svg>
<div id="zoom"><div class="lvl">13</div><div class="btn"><svg width="63" height="32"><path d="M11 16.5h11M43 16.5h11M48.5 11v11" stroke="#555" stroke-width="1" fill="none"/></svg></div></div>
<div id="srch"><svg width="32" height="32"><circle cx="15" cy="15" r="3.3" fill="none" stroke="#555" stroke-width="1.3"/><path d="M17.5 17.5l3.6 3.6" stroke="#555" stroke-width="1.4"/></svg></div>
<div id="help">?</div>
</div>
<div id="panel">
 <div class="w" style="top:0;height:334px">
  <div class="ttl" style="top:22px;transform:scaleX(1.0211)">Evictions by Demographic...</div>
  <svg class="ico" style="left:226px;top:22px" width="36" height="18"><circle cx="9" cy="9" r="7.3" fill="none" stroke="#1785FB" stroke-width="1.1"/><path d="M9 5.2c1.6 2 2.4 3.3 2.4 4.5a2.4 2.4 0 0 1-4.8 0c0-1.2.8-2.5 2.4-4.5z" fill="none" stroke="#1785FB" stroke-width="1.1"/><circle cx="29" cy="4.5" r="1.1" fill="#1785FB"/><circle cx="29" cy="9" r="1.1" fill="#1785FB"/><circle cx="29" cy="13.5" r="1.1" fill="#1785FB"/></svg>
  <div class="sub" style="top:53px;transform:scaleX(0.8545)">ALL SELECTED</div>
  <div style="position:absolute;left:0;top:0">
<div class="row" style="top:78px"><span class="nm" style="left:0px;transform:scaleX(0.9003)">HIGH RISE, DENSE URBANITES</span><span class="vl">796</span><div class="bar"><div class="fill" style="width:232px"></div></div></div>
<div class="row" style="top:114px"><span class="nm" style="left:0px;transform:scaleX(0.9076)">WEALTHY TRANSPLANTS DISPLAC...</span><span class="vl">430</span><div class="bar"><div class="fill" style="width:125.3px"></div></div></div>
<div class="row" style="top:150px"><span class="nm" style="left:0px;transform:scaleX(0.9597)">WHITE AND MINORITY MIX MULTI...</span><span class="vl">174</span><div class="bar"><div class="fill" style="width:50.7px"></div></div></div>
<div class="row" style="top:186px"><span class="nm" style="left:2.3px;transform:scaleX(0.9475)">HISPANIC BLACK MIX MULTILING...</span><span class="vl">103</span><div class="bar"><div class="fill" style="width:30px"></div></div></div>
<div class="row" style="top:222px"><span class="nm" style="left:1px;transform:scaleX(0.9147)">RENTERS WITHIN CITIES, MIXED IN...</span><span class="vl">61</span><div class="bar"><div class="fill" style="width:17.8px"></div></div></div>
<div class="row" style="top:258px"><span class="nm" style="left:0px;transform:scaleX(0.8640)">OTHER</span><span class="vl">178</span><div class="bar"><div class="fill hatch" style="width:51.9px"></div></div></div>

  </div>
  <svg class="ico" style="left:26px;top:300px" width="12" height="12"><circle cx="4.8" cy="4.8" r="3.3" fill="none" stroke="#1785FB" stroke-width="1.2"/><path d="M7.3 7.3l3.2 3.2" stroke="#1785FB" stroke-width="1.3"/></svg>
  <div id="find" style="transform:scaleX(0.8840)">SEARCH IN 21 CATEGORIES</div>
 </div>
 <div class="w" style="top:336px;height:169px">
  <div class="ttl" style="top:22px;transform:scaleX(1.0104)">Evictions Per 10k Househ...</div>
  <svg class="ico" style="left:226px;top:22px" width="36" height="18"><circle cx="9" cy="9" r="7.3" fill="none" stroke="#1785FB" stroke-width="1.1"/><path d="M9 5.2c1.6 2 2.4 3.3 2.4 4.5a2.4 2.4 0 0 1-4.8 0c0-1.2.8-2.5 2.4-4.5z" fill="none" stroke="#1785FB" stroke-width="1.1"/><circle cx="29" cy="4.5" r="1.1" fill="#1785FB"/><circle cx="29" cy="9" r="1.1" fill="#1785FB"/><circle cx="29" cy="13.5" r="1.1" fill="#1785FB"/></svg>
  <div class="sub" style="top:53px;transform:scaleX(0.8725)">154 SELECTED</div>
  <svg class="ico" style="left:24px;top:78px" width="232" height="49"><path d="M0 .5h232M0 24h232M77.3 0v48M154.6 0v48" stroke="#EEE" stroke-width="1" fill="none"/><rect x="0.00" y="14.8" width="14.47" height="32.7" fill="#9DE0AD"/><rect x="15.47" y="9.2" width="14.47" height="38.3" fill="#9DE0AD"/><rect x="30.93" y="11.8" width="14.47" height="35.7" fill="#9DE0AD"/><rect x="46.40" y="0.5" width="14.47" height="47.0" fill="#9DE0AD"/><rect x="61.87" y="22.3" width="14.47" height="25.2" fill="#9DE0AD"/><rect x="77.33" y="24.9" width="14.47" height="22.6" fill="#9DE0AD"/><rect x="92.80" y="34.5" width="14.47" height="13.0" fill="#9DE0AD"/><rect x="108.27" y="42.3" width="14.47" height="5.2" fill="#9DE0AD"/><rect x="123.73" y="40.1" width="14.47" height="7.4" fill="#9DE0AD"/><rect x="139.20" y="46.0" width="14.47" height="1.5" fill="#9DE0AD"/><rect x="170.13" y="46.0" width="14.47" height="1.5" fill="#9DE0AD"/><rect x="201.07" y="46.0" width="14.47" height="1.5" fill="#9DE0AD"/><rect x="216.53" y="46.0" width="14.47" height="1.5" fill="#9DE0AD"/><path d="M0 47.5h232" stroke="#CCC" stroke-width="1"/></svg>
  <div class="ax" style="left:24px">0</div><div class="ax" style="left:91px">85.3</div><div class="ax" style="left:170px">171</div><div class="ax" style="left:239px">256</div>
 </div>
 <div class="w" style="top:507px;height:80px">
  <div class="ttl" style="top:22px;color:#6c7175;transform:scaleX(1.0144)">Median Rent, 2016 ($)</div>
  <svg class="ico" style="left:226px;top:22px" width="36" height="18"><circle cx="9" cy="9" r="7.3" fill="none" stroke="#1785FB" stroke-width="1.1"/><path d="M9 5.2c1.6 2 2.4 3.3 2.4 4.5a2.4 2.4 0 0 1-4.8 0c0-1.2.8-2.5 2.4-4.5z" fill="none" stroke="#1785FB" stroke-width="1.1"/><circle cx="29" cy="4.5" r="1.1" fill="#1785FB"/><circle cx="29" cy="9" r="1.1" fill="#1785FB"/><circle cx="29" cy="13.5" r="1.1" fill="#1785FB"/></svg>
  <div class="sub" style="top:53px;color:#888;transform:scaleX(0.8725)">132 SELECTED</div>
 </div>
 <div id="fade"></div>
</div>
</body></html>
